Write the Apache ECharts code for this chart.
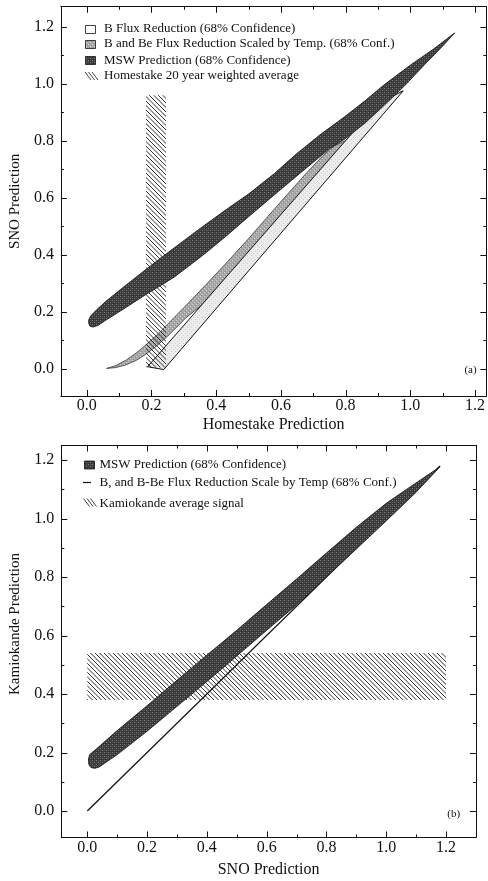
<!DOCTYPE html>
<html>
<head>
<meta charset="utf-8">
<script src="https://cdn.jsdelivr.net/npm/echarts@6/dist/echarts.min.js"></script>
<style>
  html, body { margin: 0; padding: 0; background: #fff; }
  #chart { width: 488px; height: 881px; }
</style>
</head>
<body>
<div id="chart"></div>
<script>
const FONT = '"Liberation Serif", "DejaVu Serif", serif'
const INK = '#111'

// tick values shared by both panels
const majorTicks = [0, 0.2, 0.4, 0.6, 0.8, 1.0, 1.2]
const minorTicks = [0.1, 0.3, 0.5, 0.7, 0.9, 1.1]

// axis ranges [xMin, xMax, yMin, yMax]
const rangeA = [-0.08, 1.235, -0.095, 1.27]
const rangeB = [-0.087, 1.3, -0.09, 1.25]

// (a) Homestake prediction (x) vs SNO prediction (y)
const homestakeBand = [[0.183, 0.005], [0.245, 0.005], [0.245, 0.96], [0.183, 0.96]]
const bFluxA = [[0.188, 0.008], [0.238, -0.002], [0.978, 0.975], [0.900, 0.930]]
const bBeA = [
    [0.061, 0.002], [0.090, 0.012], [0.123, 0.032], [0.155, 0.058], [0.184, 0.086],
    [0.220, 0.123], [0.256, 0.164], [0.300, 0.215], [0.358, 0.283], [0.430, 0.370],
    [0.501, 0.458], [0.560, 0.535], [0.620, 0.612], [0.680, 0.688], [0.730, 0.748],
    [0.765, 0.782], [0.795, 0.798], [0.830, 0.812], [0.880, 0.862], [0.930, 0.920],
    [0.975, 0.975], [0.890, 0.900], [0.730, 0.700], [0.580, 0.500], [0.400, 0.265],
    [0.307, 0.180], [0.250, 0.115], [0.215, 0.080], [0.180, 0.050], [0.153, 0.030],
    [0.120, 0.014], [0.090, 0.005]
]
const mswA = [
    [0.006, 0.160], [0.006, 0.172], [0.012, 0.186], [0.030, 0.207], [0.060, 0.238],
    [0.120, 0.293], [0.184, 0.350], [0.245, 0.403], [0.300, 0.450], [0.358, 0.499],
    [0.430, 0.558], [0.501, 0.614], [0.580, 0.685], [0.644, 0.750], [0.720, 0.820],
    [0.798, 0.885], [0.860, 0.940], [0.920, 0.997], [1.000, 1.065], [1.070, 1.120],
    [1.137, 1.178],
    [1.100, 1.132], [1.040, 1.062], [0.980, 0.990], [0.920, 0.925], [0.860, 0.862],
    [0.800, 0.808], [0.750, 0.772], [0.700, 0.725], [0.600, 0.630], [0.501, 0.535],
    [0.430, 0.465], [0.358, 0.398], [0.270, 0.322], [0.184, 0.262], [0.120, 0.215],
    [0.060, 0.172], [0.035, 0.153], [0.020, 0.147], [0.010, 0.150]
]

// (b) SNO prediction (x) vs Kamiokande prediction (y)
const kamiokandeBand = [[0, 0.38], [1.2, 0.38], [1.2, 0.54], [0, 0.54]]
const bBeLineB = [[0, 0], [1.18, 1.18]]
const mswB = [
    [0.005, 0.160], [0.004, 0.178], [0.008, 0.193], [0.030, 0.212], [0.100, 0.275],
    [0.200, 0.360], [0.300, 0.447], [0.400, 0.533], [0.500, 0.618], [0.600, 0.706],
    [0.700, 0.793], [0.800, 0.882], [0.900, 0.970], [1.000, 1.052], [1.080, 1.108],
    [1.180, 1.177],
    [1.100, 1.090], [1.000, 0.992], [0.900, 0.896], [0.800, 0.801], [0.760, 0.762],
    [0.700, 0.705], [0.600, 0.618], [0.500, 0.530], [0.400, 0.443], [0.300, 0.358],
    [0.200, 0.273], [0.100, 0.193], [0.060, 0.165], [0.040, 0.151], [0.025, 0.146],
    [0.012, 0.149]
]

// fill textures (halftone look of the printed figure)
function pattern(size, bg, draw) {
    const c = document.createElement('canvas')
    c.width = c.height = size
    const ctx = c.getContext('2d')
    if (bg) { ctx.fillStyle = bg; ctx.fillRect(0, 0, size, size) }
    draw(ctx, size)
    return { image: c, repeat: 'repeat' }
}
const dots = (bg, spots) => pattern(4, bg, ctx => {
    spots.forEach(([x, y, col]) => { ctx.fillStyle = col; ctx.fillRect(x, y, 1, 1) })
})
const hatchFill = pattern(9, null, (ctx, s) => {
    ctx.strokeStyle = '#1a1a1a'
    ctx.lineWidth = 0.9
    for (let k = -2; k <= 2; k++) {
        ctx.beginPath(); ctx.moveTo(k * 4.5, 0); ctx.lineTo(k * 4.5 + s, s); ctx.stroke()
    }
})
const mswFill = dots('#3b3b3b', [[0, 0, '#7c7c7c'], [2, 2, '#7c7c7c'], [2, 0, '#555'], [0, 2, '#555'], [1, 3, '#2a2a2a']])
const bBeFill = dots('#a9a9a9', [[0, 0, '#d2d2d2'], [2, 2, '#d2d2d2'], [1, 3, '#8a8a8a'], [3, 1, '#8a8a8a']])
const bFluxFill = dots('#ececec', [[1, 1, '#cfcfcf'], [3, 3, '#cfcfcf']])

// main axis (labels + frame line) and the opposite side (frame line only)
function frameAxes(dim, gi, min, max, extra) {
    const pos = dim === 'x' ? ['bottom', 'top'] : ['left', 'right']
    const base = p => ({
        type: 'value', gridIndex: gi, min, max, position: p,
        axisLine: { show: true, onZero: false, lineStyle: { color: INK, width: 1 } },
        splitLine: { show: false }, axisTick: { show: false }, axisLabel: { show: false }
    })
    const main = Object.assign(base(pos[0]), {
        axisLabel: {
            show: true, customValues: majorTicks, formatter: v => v.toFixed(1),
            fontFamily: FONT, fontSize: 16, color: INK, margin: dim === 'x' ? 2 : 7
        }
    }, extra)
    return [main, base(pos[1])]
}

function polygonSeries(name, pts, axisIdx, style, z) {
    return {
        type: 'custom', name, xAxisIndex: axisIdx, yAxisIndex: axisIdx, z,
        silent: true, animation: false,
        data: pts,
        renderItem: (params, api) => {
            if (params.dataIndex !== 0) return
            return {
                type: 'polygon',
                shape: { points: pts.map(p => api.coord(p)) },
                style
            }
        }
    }
}

const nameStyle = size => ({ fontFamily: FONT, fontSize: size, color: INK })
const txt = (x, y, text, size, extra, rotation) => ({
    type: 'text', x, y, rotation: rotation || 0, silent: true,
    style: Object.assign({ text, font: size + 'px ' + FONT, fill: INK, verticalAlign: 'middle' }, extra)
})
const box = (x, y, fill) => ({
    type: 'rect', silent: true, shape: { x, y, width: 10, height: 8 },
    style: { fill, stroke: INK, lineWidth: 0.8 }
})
const seg = (x1, y1, x2, y2, w) => ({
    type: 'line', silent: true, z: 10,
    shape: { x1, y1, x2, y2 }, style: { stroke: INK, lineWidth: w || 1 }
})
// tick stub drawn as a thin filled bar
const bar = (x, y, width, height) => ({
    type: 'rect', silent: true, z: 10,
    shape: { x, y, width, height }, style: { fill: INK }
})
const hatchIcon = (x, y) => [0, 3.5, 7].map(d => seg(x + d, y, x + d + 6, y + 8, 0.8))

const chart = echarts.init(document.getElementById('chart'))

chart.setOption({
    animation: false,
    grid: [
        { left: 60.6, top: 6.7, width: 428.7, height: 389.4 },
        { left: 61.3, top: 445.4, width: 414.6, height: 392 }
    ],
    xAxis: [
        ...frameAxes('x', 0, rangeA[0], rangeA[1], {
            name: 'Homestake Prediction', nameLocation: 'middle', nameGap: 21, nameTextStyle: nameStyle(16)
        }),
        ...frameAxes('x', 1, rangeB[0], rangeB[1], {
            name: 'SNO Prediction', nameLocation: 'middle', nameGap: 24, nameTextStyle: nameStyle(16)
        })
    ],
    yAxis: [
        ...frameAxes('y', 0, rangeA[2], rangeA[3], {
            name: 'SNO Prediction', nameLocation: 'middle', nameGap: 35, nameTextStyle: nameStyle(15)
        }),
        ...frameAxes('y', 1, rangeB[2], rangeB[3], {})
    ],
    series: [
        // panel (a)
        polygonSeries('B and Be Flux Reduction Scaled by Temp. (68% Conf.)', bBeA, 0,
            { fill: bBeFill, stroke: '#3a3a3a', lineWidth: 0.8 }, 1),
        polygonSeries('B Flux Reduction (68% Confidence)', bFluxA, 0,
            { fill: bFluxFill, stroke: INK, lineWidth: 1 }, 2),
        polygonSeries('Homestake 20 year weighted average', homestakeBand, 0,
            { fill: hatchFill }, 3),
        polygonSeries('MSW Prediction (68% Confidence)', mswA, 0,
            { fill: mswFill, stroke: '#1c1c1c', lineWidth: 0.9 }, 4),
        // panel (b)
        polygonSeries('Kamiokande average signal', kamiokandeBand, 2,
            { fill: hatchFill }, 1),
        {
            type: 'line', name: 'B, and B-Be Flux Reduction Scale by Temp (68% Conf.)',
            xAxisIndex: 2, yAxisIndex: 2, z: 2, data: bBeLineB,
            showSymbol: false, silent: true, animation: false,
            lineStyle: { color: INK, width: 1.3 }
        },
        polygonSeries('MSW Prediction (68% Confidence)', mswB, 2,
            { fill: mswFill, stroke: '#1c1c1c', lineWidth: 0.9 }, 3)
    ]
})

// inward ticks on all four sides, positioned with the axes' own scales
const ticks = []
;[[0, rangeA], [1, rangeB]].forEach(([gi, r]) => {
    const [left, bottom] = chart.convertToPixel({ gridIndex: gi }, [r[0], r[2]])
    const [right, top] = chart.convertToPixel({ gridIndex: gi }, [r[1], r[3]])
    ;[[majorTicks, 6], [minorTicks, 3]].forEach(([vals, len]) => {
        vals.forEach(v => {
            const [px, py] = chart.convertToPixel({ gridIndex: gi }, [v, v]).map(c => Math.round(c))
            ticks.push(
                bar(px, bottom - len, 1, len),
                bar(px, top, 1, len),
                bar(left, py, len, 1),
                bar(right - len, py, len, 1)
            )
        })
    })
})

chart.setOption({
    graphic: [
        ...ticks,
        // legend (a)
        box(85.5, 25.5, '#fff'),
        txt(104, 28.5, 'B Flux Reduction (68% Confidence)', 13),
        box(85.5, 40.5, bBeFill),
        txt(104, 44, 'B and Be Flux Reduction Scaled by Temp. (68% Conf.)', 13),
        box(85.5, 56.5, mswFill),
        txt(104, 60.5, 'MSW Prediction (68% Confidence)', 13),
        ...hatchIcon(85, 72),
        txt(104, 76, 'Homestake 20 year weighted average', 13),
        txt(470.5, 370, '(a)', 11, { align: 'center' }),
        // legend (b)
        box(84.5, 461, mswFill),
        txt(99.5, 465, 'MSW Prediction (68% Confidence)', 13),
        seg(83, 482.5, 91, 482.5, 1.2),
        txt(99.5, 482.7, 'B, and B-Be Flux Reduction Scale by Temp (68% Conf.)', 13),
        ...hatchIcon(83.5, 498.5),
        txt(99.5, 503.3, 'Kamiokande average signal', 13),
        txt(453.7, 814.5, '(b)', 11, { align: 'center' }),
        // y title of panel (b) sits a little above the frame centre in the original
        txt(15, 624, 'Kamiokande Prediction', 15, { align: 'center' }, Math.PI / 2)
    ]
})
</script>
</body>
</html>
